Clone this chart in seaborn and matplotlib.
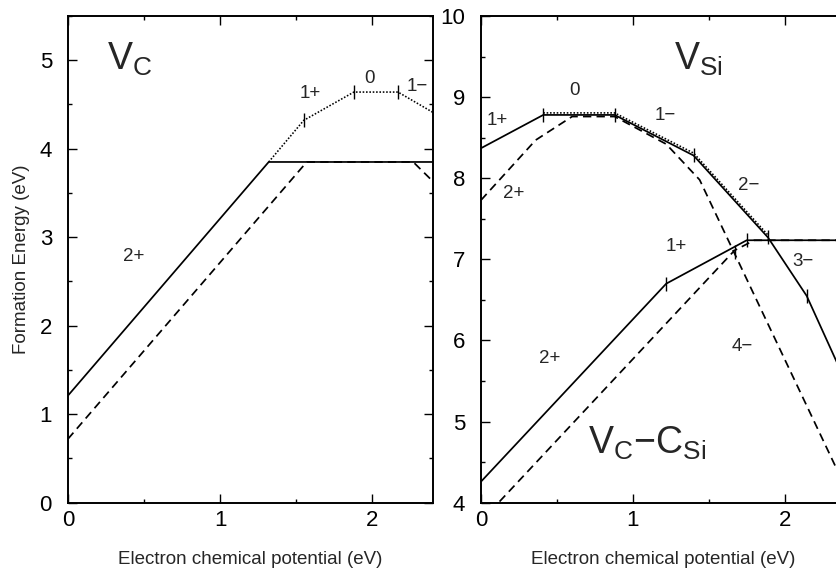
import matplotlib
matplotlib.use('Agg')
import matplotlib.pyplot as plt
import seaborn as sns
import pandas as pd
from matplotlib.ticker import MultipleLocator

# ---------------- data ----------------
# Left panel: V_C
vc_solid_x = [0.0, 1.32, 2.4]
vc_solid_y = [1.21, 3.85, 3.85]
vc_dash_x = [0.0, 1.57, 2.27, 2.4]
vc_dash_y = [0.72, 3.85, 3.85, 3.63]
vc_dot_x = [1.32, 1.55, 1.88, 2.17, 2.4]
vc_dot_y = [3.85, 4.32, 4.64, 4.64, 4.41]
vc_tick_x = [1.55, 1.88, 2.17]
vc_tick_y = [4.32, 4.64, 4.64]

# Right panel: V_Si
vsi_solid_x = [0.0, 0.41, 0.88, 1.40, 1.89, 2.145, 2.4]
vsi_solid_y = [8.37, 8.78, 8.78, 8.28, 7.27, 6.55, 5.50]
vsi_dot_x = [0.41, 0.88, 1.40, 1.89]
vsi_dot_y = [8.805, 8.805, 8.31, 7.30]
vsi_dash_x = [0.0, 0.36, 0.60, 0.88, 1.22, 1.44, 2.4]
vsi_dash_y = [7.73, 8.47, 8.76, 8.76, 8.42, 7.98, 4.19]
vsi_tick_x = [0.41, 0.88, 1.40, 1.89, 2.145]
vsi_tick_y = [8.78, 8.78, 8.28, 7.27, 6.55]

# Right panel: V_C-C_Si
ccsi_solid_x = [0.0, 1.22, 1.75, 2.4]
ccsi_solid_y = [4.26, 6.70, 7.235, 7.235]
ccsi_dash_x = [0.0, 1.67, 1.80, 2.4]
ccsi_dash_y = [3.77, 7.11, 7.235, 7.235]
ccsi_tick_x = [1.22, 1.75, 1.67]
ccsi_tick_y = [6.70, 7.235, 7.09]

# charge-state labels
left_lbl_text = ['2+', '1+', '0', '1\u2212']
left_lbl_x = [0.435, 1.59, 1.985, 2.294]
left_lbl_y = [2.78, 4.62, 4.79, 4.70]
right_lbl_text = ['0', '1+', '2+', '1\u2212', '2\u2212', '1+', '3\u2212', '4\u2212', '2+']
right_lbl_x = [0.613, 0.109, 0.216, 1.212, 1.766, 1.287, 2.118, 1.723, 0.455]
right_lbl_y = [9.086, 8.716, 7.81, 8.778, 7.914, 7.152, 6.967, 5.926, 5.774]

xlabel = 'Electron chemical potential (eV)'
ylabel = 'Formation Energy (eV)'

# ---------------- style ----------------
sns.set_theme(style='ticks')
plt.rcParams['font.family'] = ['Liberation Sans', 'DejaVu Sans']
plt.rcParams['mathtext.fontset'] = 'custom'
plt.rcParams['mathtext.rm'] = 'Liberation Sans'
plt.rcParams['mathtext.it'] = 'Liberation Sans'
plt.rcParams['mathtext.sf'] = 'Liberation Sans'
plt.rcParams['mathtext.default'] = 'regular'

fig = plt.figure(figsize=(8.36, 5.70), dpi=100)
axL = fig.add_axes([0.0813, 0.1181, 0.4366, 0.8539])
axR = fig.add_axes([0.5754, 0.1181, 0.4358, 0.8539])

LW = 1.25
DASH = (0, (4.8, 3.0))
DOT = (0, (1.0, 1.1))


def line(ax, x, y, ls, lw=LW):
    df = pd.DataFrame({'x': x, 'y': y})
    sns.lineplot(data=df, x='x', y='y', ax=ax, color='black', linestyle=ls,
                 linewidth=lw, sort=False, estimator=None)


def ticks(ax, x, y):
    ax.plot(x, y, linestyle='none', marker='|', markersize=10,
            markeredgewidth=1.0, color='black')


def style(ax, ylim):
    ax.set_xlim(0, 2.4)
    ax.set_ylim(*ylim)
    ax.xaxis.set_major_locator(MultipleLocator(1))
    ax.xaxis.set_minor_locator(MultipleLocator(0.5))
    ax.yaxis.set_major_locator(MultipleLocator(1))
    ax.yaxis.set_minor_locator(MultipleLocator(0.5))
    ax.tick_params(which='both', direction='in', top=True, right=True,
                   colors='black', width=1.0)
    ax.tick_params(which='major', length=6.7)
    ax.tick_params(which='minor', length=3.1)
    ax.tick_params(axis='x', labelsize=16, pad=5)
    ax.tick_params(axis='y', labelsize=16, pad=11.5)
    for s in ax.spines.values():
        s.set_linewidth(1.4)
        s.set_color('black')
    ax.set_xlabel(xlabel, fontsize=13.5, labelpad=15)
    ax.set_ylabel('')


# Left panel
line(axL, vc_solid_x, vc_solid_y, '-')
line(axL, vc_dash_x, vc_dash_y, DASH)
line(axL, vc_dot_x, vc_dot_y, DOT, lw=1.15)
ticks(axL, vc_tick_x, vc_tick_y)
style(axL, (0, 5.5))
axL.set_ylabel(ylabel, fontsize=13.5)
axL.yaxis.set_label_coords(-0.104, 0.5)
for t, x, y in zip(left_lbl_text, left_lbl_x, left_lbl_y):
    axL.text(x, y, t, fontsize=13.5, ha='center', va='center')
axL.text(0.255, 4.89, r'$V_{C}$', fontsize=27, ha='left', va='baseline')

# Right panel
line(axR, vsi_solid_x, vsi_solid_y, '-')
line(axR, vsi_dot_x, vsi_dot_y, DOT, lw=1.15)
line(axR, vsi_dash_x, vsi_dash_y, DASH)
line(axR, ccsi_solid_x, ccsi_solid_y, '-')
line(axR, ccsi_dash_x, ccsi_dash_y, DASH)
ticks(axR, vsi_tick_x, vsi_tick_y)
ticks(axR, ccsi_tick_x, ccsi_tick_y)
style(axR, (4, 10))
for t, x, y in zip(right_lbl_text, right_lbl_x, right_lbl_y):
    axR.text(x, y, t, fontsize=13.5, ha='center', va='center')
axR.text(1.271, 9.333, r'$V_{Si}$', fontsize=27, ha='left', va='baseline')
axR.text(0.707, 4.601, r'$V_{C}\mathrm{-}C_{Si}$', fontsize=27, ha='left', va='baseline')

fig.savefig('out.png', dpi=100)
